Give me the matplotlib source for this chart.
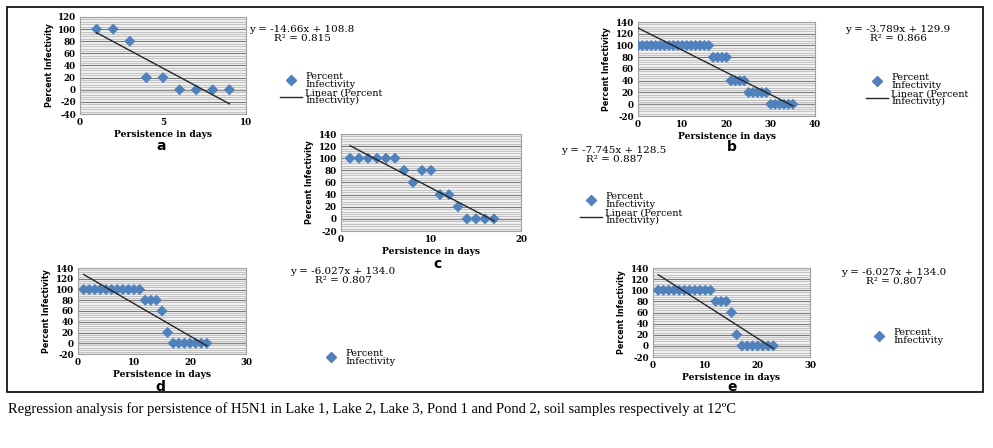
import matplotlib
matplotlib.use("Agg")
import matplotlib.pyplot as plt
import numpy as np
from matplotlib.lines import Line2D
from matplotlib.patches import Rectangle
from matplotlib.ticker import MultipleLocator

plt.rcParams["axes.unicode_minus"] = False

W, H = 993, 448

# ---- data ----
days_a = [1, 2, 3, 4, 5, 6, 7, 8, 9]
inf_a = [100, 100, 80, 20, 20, 0, 0, 0, 0]
fit_a = (-14.66, 108.8, 0.815)

days_b = list(range(0, 36))
inf_b = [100] * 17 + [80] * 4 + [40] * 4 + [20] * 5 + [0] * 6
fit_b = (-3.789, 129.9, 0.866)

days_c = list(range(1, 18))
inf_c = [100, 100, 100, 100, 100, 100, 80, 60, 80, 80, 40, 40, 20, 0, 0, 0, 0]
fit_c = (-7.745, 128.5, 0.887)

days_d = list(range(1, 24))
inf_d = [100] * 11 + [80] * 3 + [60, 20] + [0] * 7
fit_d = (-6.027, 134.0, 0.807)

days_e = list(range(1, 24))
inf_e = [100] * 11 + [80] * 3 + [60, 20] + [0] * 7
fit_e = (-6.027, 134.0, 0.807)

SERIF = "Liberation Serif"
WIDE = "DejaVu Serif"
BLUE = "#4F81BD"

# layout in pixels: axes (left, right, top, bottom), equation centre, legend anchor, label pos
panels = [
    dict(x=days_a, y=inf_a, fit=fit_a, xlim=(0, 10), xstep=5, ylim=(-40, 120),
         box=(80, 246, 17, 114), eq=(302, 34), leg=(280, 72), linear=True, tag="a", tagpos=(161, 146)),
    dict(x=days_b, y=inf_b, fit=fit_b, xlim=(0, 40), xstep=10, ylim=(-20, 140),
         box=(638, 815, 22, 116), eq=(898, 34), leg=(866, 73), linear=True, tag="b", tagpos=(732, 147)),
    dict(x=days_c, y=inf_c, fit=fit_c, xlim=(0, 20), xstep=10, ylim=(-20, 140),
         box=(341, 521, 134, 231), eq=(614, 155), leg=(580, 192), linear=True, tag="c", tagpos=(437, 264)),
    dict(x=days_d, y=inf_d, fit=fit_d, xlim=(0, 30), xstep=10, ylim=(-20, 140),
         box=(78, 246, 268, 354), eq=(343, 276), leg=(320, 349), linear=False, tag="d", tagpos=(160, 387)),
    dict(x=days_e, y=inf_e, fit=fit_e, xlim=(0, 30), xstep=10, ylim=(-20, 140),
         box=(653, 810, 268, 357), eq=(894, 277), leg=(868, 328), linear=False, tag="e", tagpos=(732, 387)),
]

fig = plt.figure(figsize=(W / 100, H / 100), dpi=100)
fig.patch.set_facecolor("white")

for p in panels:
    l, r, t, b = p["box"]
    ax = fig.add_axes([l / W, 1 - b / H, (r - l) / W, (b - t) / H])
    ax.set_facecolor("#f0f0f0")
    ax.set_xlim(*p["xlim"])
    ax.set_ylim(*p["ylim"])
    ax.xaxis.set_major_locator(MultipleLocator(p["xstep"]))
    ax.yaxis.set_major_locator(MultipleLocator(20))
    ax.yaxis.set_minor_locator(MultipleLocator(4))
    ax.grid(True, which="minor", axis="y", color="#b0b0b0", linewidth=0.5)
    ax.grid(True, which="major", axis="y", color="#7a7a7a", linewidth=0.8)
    ax.set_axisbelow(True)
    ax.axhline(0, color="#888888", linewidth=0.9, zorder=1)
    for s in ax.spines.values():
        s.set_color("#a0a0a0")
        s.set_linewidth(0.8)
    ax.tick_params(axis="both", which="both", length=0, pad=3)
    ax.tick_params(axis="both", labelsize=6.3)
    for lab in ax.get_xticklabels() + ax.get_yticklabels():
        lab.set_fontfamily(WIDE)
        lab.set_fontweight("bold")

    ax.scatter(p["x"], p["y"], marker="D", s=32, color=BLUE, edgecolors="none", zorder=3)
    m, c, r2 = p["fit"]
    xs = np.array([min(p["x"]), max(p["x"])])
    ax.plot(xs, m * xs + c, color="#262626", linewidth=1.0, zorder=4)

    ax.set_xlabel("Persistence in days", fontfamily=WIDE, fontweight="bold", fontsize=6.6, labelpad=2)
    ax.set_ylabel("Percent Infectivity", fontfamily="Liberation Sans Narrow", fontweight="bold",
                  fontsize=5.8, labelpad=3)

    ex, ey = p["eq"]
    fig.text(ex / W, 1 - ey / H, f"y = {m:.4g}x + {c:.1f}\nR² = {r2:.3f}",
             fontfamily=WIDE, fontsize=7.5, ha="center", va="center", linespacing=0.9)

    handles = [Line2D([], [], marker="D", linestyle="none", color=BLUE, markersize=5)]
    labels = ["Percent\nInfectivity"]
    if p["linear"]:
        handles.append(Line2D([], [], color="#262626", linewidth=1.0))
        labels.append("Linear (Percent\nInfectivity)")
    lx, ly = p["leg"]
    leg = ax.legend(handles, labels, loc="upper left", bbox_to_anchor=(lx / W, 1 - ly / H),
                    bbox_transform=fig.transFigure, frameon=False, borderaxespad=0,
                    borderpad=0, handlelength=2.3, handletextpad=0.3, labelspacing=0.0,
                    prop=dict(family=WIDE, size=7))
    for txt in leg.get_texts():
        txt.set_linespacing(0.8)

    tx, ty = p["tagpos"]
    fig.text(tx / W, 1 - ty / H, p["tag"], fontfamily="DejaVu Sans", fontweight="bold",
             fontsize=10, ha="center", va="center")

# outer frame
fig.add_artist(Rectangle((7 / W, 1 - 392 / H), (983 - 7) / W, (392 - 7) / H,
                         transform=fig.transFigure, fill=False, edgecolor="black", linewidth=1.2))

fig.text(8 / W, 1 - 409 / H,
         "Regression analysis for persistence of H5N1 in Lake 1, Lake 2, Lake 3, Pond 1 and Pond 2, "
         "soil samples respectively at 12ºC",
         fontfamily=SERIF, fontsize=10.5, ha="left", va="center")

fig.savefig("out.png", dpi=100)
